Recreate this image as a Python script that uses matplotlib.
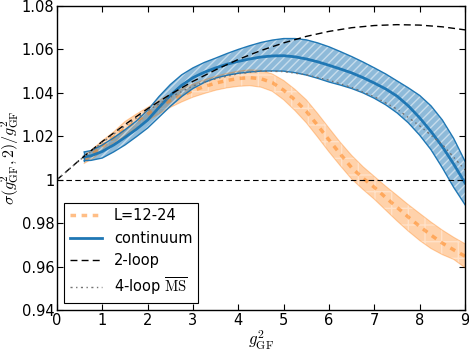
import numpy as np
import matplotlib
matplotlib.use('Agg')
import matplotlib.pyplot as plt

plt.rcParams['mathtext.fontset'] = 'cm'
plt.rcParams['hatch.linewidth'] = 1.0

# continuum extrapolation (band + central value)
x_cont = [0.6, 0.75, 1.0, 1.25, 1.5, 1.75, 2.0, 2.25, 2.5, 2.75, 3.0, 3.25, 3.5, 3.75,
          4.0, 4.25, 4.5, 4.75, 5.0, 5.25, 5.5, 5.75, 6.0, 6.25, 6.5, 6.75, 7.0, 7.25,
          7.5, 7.75, 8.0, 8.25, 8.5, 8.75, 9.0]
cont_mid = [1.0105, 1.0110, 1.0130, 1.0160, 1.0195, 1.0232, 1.0275, 1.0333, 1.0388,
            1.0435, 1.0470, 1.0495, 1.0515, 1.0532, 1.0545, 1.0556, 1.0565, 1.0570,
            1.0571, 1.0566, 1.0556, 1.0543, 1.0527, 1.0510, 1.0492, 1.0470, 1.0445,
            1.0418, 1.0385, 1.0340, 1.0285, 1.0222, 1.0152, 1.0072, 0.9985]
cont_hi = [1.0128, 1.0134, 1.0160, 1.0193, 1.0230, 1.0270, 1.0320, 1.0383, 1.0438,
           1.0483, 1.0515, 1.0540, 1.0560, 1.0581, 1.0600, 1.0617, 1.0632, 1.0643,
           1.0650, 1.0650, 1.0644, 1.0630, 1.0612, 1.0590, 1.0567, 1.0542, 1.0515,
           1.0487, 1.0455, 1.0423, 1.0388, 1.0340, 1.0275, 1.0190, 1.0085]
cont_lo = [1.0088, 1.0089, 1.0100, 1.0128, 1.0160, 1.0198, 1.0238, 1.0288, 1.0338,
           1.0383, 1.0420, 1.0448, 1.0468, 1.0481, 1.0490, 1.0496, 1.0500, 1.0501,
           1.0500, 1.0493, 1.0482, 1.0467, 1.0450, 1.0436, 1.0420, 1.0400, 1.0375,
           1.0345, 1.0308, 1.0262, 1.0205, 1.0138, 1.0055, 0.9965, 0.9885]

# lattice data L=12-24
x_lat = [0.6, 0.75, 1.0, 1.25, 1.5, 1.75, 2.0, 2.25, 2.5, 2.75, 3.0, 3.25, 3.5, 3.75,
         4.0, 4.25, 4.5, 4.75, 5.0, 5.25, 5.5, 5.75, 6.0, 6.25, 6.5, 6.75, 7.0, 7.25,
         7.5, 7.75, 8.0, 8.25, 8.5, 8.75, 9.0]
lat_mid = [1.0092, 1.0113, 1.0155, 1.0195, 1.0235, 1.0270, 1.0303, 1.0335, 1.0365,
           1.0388, 1.0410, 1.0429, 1.0445, 1.0457, 1.0466, 1.0470, 1.0465, 1.0447,
           1.0412, 1.0367, 1.0315, 1.0250, 1.0183, 1.0118, 1.0055, 1.0007, 0.9965,
           0.9918, 0.9873, 0.9828, 0.9785, 0.9745, 0.9708, 0.9677, 0.9648]
lat_hi = [1.0110, 1.0135, 1.0180, 1.0220, 1.0268, 1.0302, 1.0333, 1.0365, 1.0393,
          1.0418, 1.0440, 1.0460, 1.0476, 1.0490, 1.0500, 1.0506, 1.0503, 1.0487,
          1.0457, 1.0416, 1.0368, 1.0305, 1.0238, 1.0172, 1.0112, 1.0060, 1.0015,
          0.9970, 0.9928, 0.9885, 0.9845, 0.9805, 0.9768, 0.9735, 0.9705]
lat_lo = [1.0075, 1.0093, 1.0130, 1.0170, 1.0202, 1.0238, 1.0272, 1.0303, 1.0333,
          1.0358, 1.0380, 1.0397, 1.0412, 1.0423, 1.0430, 1.0433, 1.0426, 1.0407,
          1.0368, 1.0318, 1.0262, 1.0196, 1.0128, 1.0064, 1.0003, 0.9955, 0.9910,
          0.9860, 0.9810, 0.9763, 0.9720, 0.9683, 0.9655, 0.9633, 0.9595]

# perturbative curves
x_pt = [0.0, 0.5, 1.0, 1.5, 2.0, 2.5, 3.0, 3.5, 4.0, 4.5, 5.0, 5.5, 6.0, 6.5,
        7.0, 7.5, 8.0, 8.5, 9.0]
two_loop = [1.0000, 1.0091, 1.0176, 1.0254, 1.0327, 1.0393, 1.0453, 1.0506, 1.0554,
            1.0595, 1.0630, 1.0660, 1.0683, 1.0700, 1.0710, 1.0714, 1.0712, 1.0704,
            1.0690]
four_loop = [1.0000, 1.0090, 1.0172, 1.0248, 1.0318, 1.0380, 1.0432, 1.0465, 1.0488,
             1.0500, 1.0498, 1.0483, 1.0458, 1.0425, 1.0382, 1.0325, 1.0248, 1.0162,
             1.0045]

blue = '#1f77b4'
orange = '#ff7f0e'

fig = plt.figure(figsize=(4.69, 3.52), dpi=100)
ax = fig.add_axes([0.1215, 0.1193, 0.870, 0.8637])

# lattice band
ax.fill_between(x_lat, lat_lo, lat_hi, facecolor=orange, alpha=0.35, edgecolor='white',
                hatch='+', linewidth=0)
ax.plot(x_lat, lat_hi, color=orange, alpha=0.35, lw=0.8)
ax.plot(x_lat, lat_lo, color=orange, alpha=0.35, lw=0.8)
ax.plot(x_lat, lat_mid, color=orange, alpha=0.5, lw=2.5, ls='--', dashes=(1.6, 1.6),
        label='L=12-24')

# continuum band
ax.fill_between(x_cont, cont_lo, cont_hi, facecolor=blue, alpha=0.5, edgecolor='white',
                hatch='////', linewidth=0)
ax.plot(x_cont, cont_hi, color=blue, lw=1.0)
ax.plot(x_cont, cont_lo, color=blue, lw=1.0)
ax.plot([x_cont[0], x_cont[0]], [cont_lo[0], cont_hi[0]], color=blue, lw=1.0)
ax.plot(x_cont, cont_mid, color=blue, lw=2.0, label='continuum')

ax.plot(x_pt, two_loop, color='black', lw=1.0, ls='--', dashes=(5, 3), label='2-loop')
ax.plot(x_pt, four_loop, color='0.45', lw=1.0, ls='-.', dashes=(1.5, 2.5, 1, 2.5),
        label=r'4-loop $\overline{\rm MS}$')
ax.axhline(1.0, color='black', lw=0.8, ls='--', dashes=(5, 3))

ax.set_xlim(0, 9)
ax.set_ylim(0.94, 1.08)
ax.set_xticks(range(10))
ax.set_yticks([0.94, 0.96, 0.98, 1.0, 1.02, 1.04, 1.06, 1.08])
ax.set_yticklabels(['0.94', '0.96', '0.98', '1', '1.02', '1.04', '1.06', '1.08'])
ax.tick_params(direction='in', top=True, right=True, labelsize=10.5, length=4, pad=2)
for s in ax.spines.values():
    s.set_linewidth(1.0)

ax.set_xlabel(r'$g^2_{\rm GF}$', fontsize=12, labelpad=1)
ax.set_ylabel(r'$\sigma(g^2_{\rm GF},2)/g^2_{\rm GF}$', fontsize=11.5, labelpad=0)

leg = ax.legend(loc='lower left', fontsize=10.5, fancybox=False, framealpha=1,
                edgecolor='black', handlelength=2.2, borderaxespad=0.5)
leg.get_frame().set_linewidth(0.8)

fig.savefig('out.png', dpi=100)
